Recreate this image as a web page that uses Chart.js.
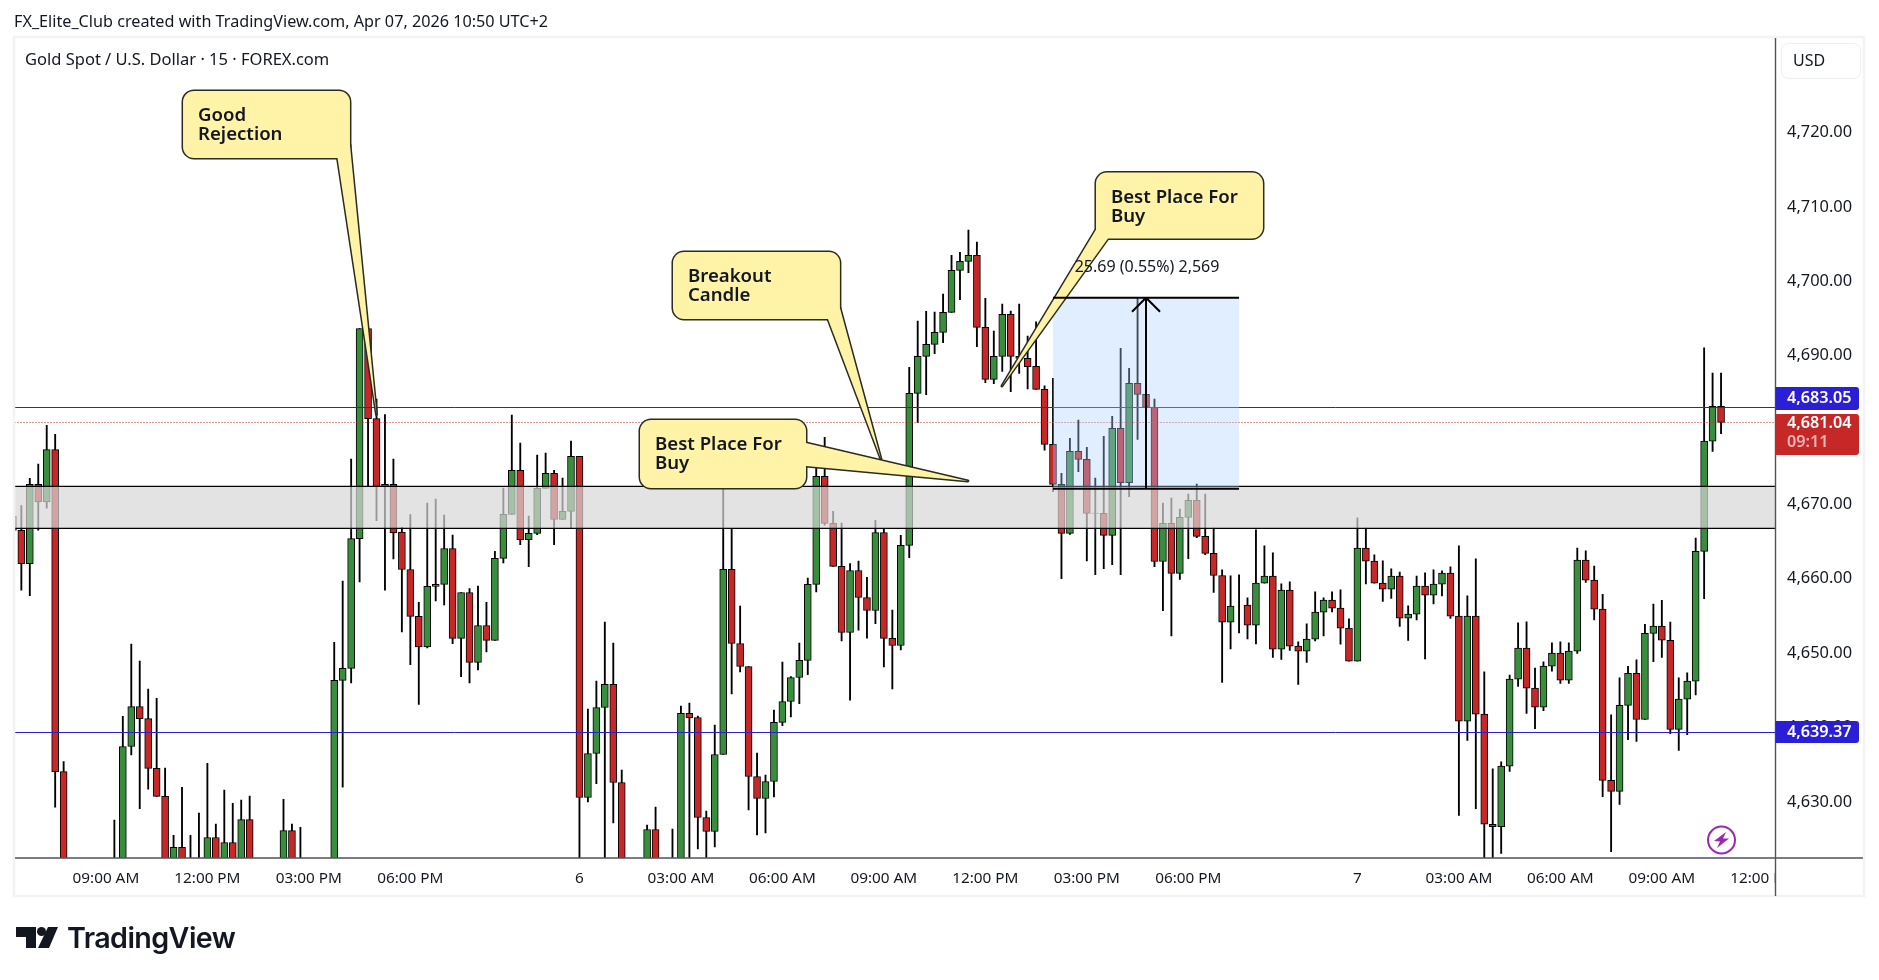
<!DOCTYPE html>
<html>
<head>
<meta charset="utf-8">
<title>XAUUSD 15m</title>
<script src="https://cdn.jsdelivr.net/npm/chart.js@4/dist/chart.umd.min.js"></script>
<style>
  html, body { margin: 0; padding: 0; background: #fff; }
  #wrap { position: relative; width: 1879px; height: 980px; overflow: hidden; font-family: "Noto Sans", sans-serif; color: #131722; }
  canvas { position: absolute; left: 0; top: 0; }
  .txt { position: absolute; white-space: nowrap; line-height: 20px; }
  #created { left: 14px; top: 11px; font-size: 16.2px; }
  #legend { left: 25px; top: 49px; font-size: 16.5px; }
  #brand { left: 67px; top: 919px; font-family: Inter, sans-serif; font-weight: 600; font-size: 28.7px; line-height: 38px; letter-spacing: -0.6px; color: #131722; }
  #logo { position: absolute; left: 16px; top: 926px; }
</style>
</head>
<body>
<div id="wrap">
  <canvas id="chart" width="1879" height="980"></canvas>
  <div class="txt" id="created">FX_Elite_Club created with TradingView.com, Apr 07, 2026 10:50 UTC+2</div>
  <div class="txt" id="legend">Gold Spot / U.S. Dollar · 15 · FOREX.com</div>
  <svg id="logo" width="42" height="23" viewBox="0 0 42 23">
    <path d="M0 1h20v21h-10v-11h-10z" fill="#131722"/>
    <circle cx="25.5" cy="5.5" r="4.5" fill="#131722"/>
    <path d="M32 1h10l-9 21h-11z" fill="#131722"/>
  </svg>
  <div class="txt" id="brand">TradingView</div>
</div>
<script>
// bars are 15 min apart, index 0 is the first full candle, -1 is cut by the left edge
const firstBar = -1;

// null = candle sits completely below the visible pane
const opens = [
  4668.4, 4666.53, 4662.03, 4672.69, 4670.34, 4677.38, 4634.06, null, null, null, null, null,
  4620, 4620, 4637.44, 4642.81, 4641.2, 4634.5, 4630.74, 4621, 4623.89, 4621, 4620, 4620,
  4625.21, 4620, 4624.53, 4620, 4627.61, null, null, null, 4620, 4626.14, 4620, null, null, null,
  4620, 4646.33, 4647.95, 4665.4, 4693.66, 4681.53, 4672.39, 4672.69, 4666.28, 4661.25, 4654.94, 4650.85,
  4658.97, 4659.24, 4664.08, 4651.98, 4658.16, 4648.75, 4653.72, 4651.71, 4662.74, 4668.66, 4674.58, 4665.25,
  4666.1, 4672.15, 4674.17, 4667.98, 4669.06, 4676.46, 4630.59, 4636.51, 4642.69, 4645.79, 4632.6, null, null,
  4620, 4626.28, null, 4620, 4621, 4641.89, 4641.35, 4627.9, 4626.01, 4636.37, 4661.26, 4651.3, 4648.21,
  4633.41, 4630.45, 4632.74, 4640.68, 4643.5, 4646.73, 4649.02, 4659.24, 4673.77, 4667.45, 4661.66, 4652.78,
  4661.12, 4657.49, 4655.74, 4666.23, 4651.98, 4651.03, 4664.49, 4684.93, 4689.91, 4691.52, 4693.14, 4695.83,
  4701.48, 4702.69, 4703.5, 4693.81, 4686.82, 4689.91, 4695.56, 4689.91, 4689.64, 4688.57, 4685.47, 4678.07,
  4672.69, 4666.1, 4677.13, 4676.06, 4668.79, 4668.79, 4665.83, 4680.23, 4672.92, 4686.28, 4684.8, 4683.05,
  4662.33, 4667.45, 4660.72, 4668.25, 4670.54, 4665.7, 4663.41, 4660.44, 4654.17, 4656.45, 4656.45, 4653.76,
  4659.41, 4660.36, 4650.54, 4658.47, 4650.94, 4650.27, 4651.88, 4655.51, 4657.13, 4656.05, 4653.36, 4648.92,
  4664.12, 4662.37, 4659.41, 4658.61, 4660.36, 4654.71, 4655.24, 4659.01, 4657.8, 4659.28, 4660.76, 4654.97,
  4640.85, 4654.97, 4641.79, 4626.99, 4626.68, 4634.8, 4646.5, 4650.67, 4645.29, 4642.73, 4648.25, 4650.0,
  4646.37, 4650.27, 4662.51, 4659.82, 4655.91, 4632.89, 4631.4, 4642.98, 4647.29, 4641.08, 4652.66, 4653.64,
  4651.74, 4639.74, 4643.82, 4646.23, 4663.69, 4678.51, 4683.19
];
const highs = [
  4668.4, 4669.85, 4673.52, 4675.42, 4680.65, 4679.43, 4635.43, null, null, null, null, null,
  4627.56, 4641.49, 4651.22, 4648.92, 4645.16, 4643.94, 4634.55, 4625.51, 4631.96, 4625.51, 4628.49, 4635.19,
  4627.02, 4631.57, 4629.81, 4630.25, 4630.79, null, null, null, 4630.35, 4627.02, 4626.58, null, null, null,
  4651.47, 4659.68, 4676.11, 4693.66, 4693.66, 4684.17, 4682.07, 4676.11, 4666.92, 4668.63, 4656.82, 4670.18,
  4670.72, 4668.57, 4665.88, 4658.16, 4658.7, 4659.02, 4656.82, 4663.68, 4672.2, 4682.02, 4678.25, 4668.43,
  4676.64, 4676.91, 4674.58, 4673.54, 4678.52, 4676.46, 4642.47, 4646.24, 4654.17, 4651.35, 4634.26, null, null,
  4626.87, 4629.29, null, 4626.33, 4642.87, 4643.28, 4641.53, 4628.75, 4640.32, 4672.15, 4666.77, 4656.33, 4648.21,
  4636.55, 4633.59, 4642.34, 4648.79, 4646.86, 4651.35, 4660.09, 4676.64, 4679.01, 4669.06, 4667.49, 4662.06,
  4662.38, 4660.18, 4667.85, 4666.77, 4655.79, 4665.83, 4688.43, 4694.66, 4695.96, 4695.87, 4698.3, 4703.5,
  4703.9, 4706.9, 4705.29, 4697.71, 4693.32, 4696.95, 4696.0, 4696.95, 4692.65, 4694.57, 4685.96, 4686.95,
  4674.17, 4678.88, 4681.35, 4677.67, 4673.54, 4679.15, 4681.84, 4690.99, 4688.3, 4697.71, 4688.43, 4684.17,
  4670.18, 4670.85, 4669.37, 4671.39, 4672.74, 4671.39, 4666.81, 4661.21, 4660.4, 4660.53, 4657.44, 4666.59,
  4664.44, 4663.49, 4659.32, 4659.59, 4651.52, 4653.94, 4658.25, 4657.44, 4658.25, 4658.52, 4654.62, 4668.2,
  4666.81, 4663.22, 4662.42, 4661.34, 4660.89, 4656.36, 4660.36, 4660.8, 4661.21, 4661.07, 4661.61, 4664.44,
  4657.71, 4662.69, 4647.49, 4634.44, 4635.38, 4647.04, 4654.08, 4654.21, 4647.98, 4648.83, 4651.39, 4651.52,
  4651.39, 4664.12, 4663.76, 4661.7, 4657.9, 4641.69, 4646.69, 4648.22, 4649.1, 4653.87, 4656.6, 4657.11,
  4654.19, 4646.69, 4647.34, 4665.49, 4691.06, 4687.68, 4687.68
];
const lows = [
  4666.5, 4658.46, 4657.72, 4666.53, 4669.51, 4629.27, 4617, null, null, null, null, null,
  4617, 4619, 4636.31, 4629.08, 4631.72, 4630.74, 4619, 4619, 4619, 4617, 4617, 4618,
  4619, 4618, 4619, 4618, 4618, null, null, null, 4618, 4618, 4618, null, null, null,
  4618, 4631.96, 4645.99, 4659.58, 4672.39, 4667.8, 4658.46, 4662.66, 4652.84, 4648.44, 4643.1, 4650.72,
  4657.04, 4656.5, 4651.26, 4646.82, 4646.01, 4647.76, 4650.18, 4651.71, 4662.15, 4668.66, 4664.58, 4661.62,
  4665.92, 4672.15, 4664.58, 4667.98, 4666.77, 4618, 4630.0, 4632.43, 4620, 4627.18, 4619, null, null,
  4618, 4618, null, 4618, 4618, 4620, 4623.68, 4621, 4623.95, 4636.37, 4644.53, 4647.49, 4628.93,
  4625.57, 4625.83, 4630.68, 4640.23, 4641.44, 4643.19, 4647.09, 4658.25, 4667.22, 4661.66, 4651.66, 4643.68,
  4653.1, 4652.02, 4653.95, 4648.16, 4645.2, 4650.45, 4662.83, 4680.99, 4684.75, 4690.27, 4691.75, 4695.83,
  4697.53, 4701.17, 4691.21, 4686.37, 4686.23, 4687.89, 4685.16, 4687.62, 4685.52, 4685.47, 4677.31, 4671.71,
  4660.0, 4665.97, 4674.4, 4662.42, 4660.54, 4661.35, 4661.89, 4660.54, 4671.03, 4678.75, 4675.52, 4661.62,
  4655.7, 4652.33, 4659.91, 4662.69, 4665.52, 4663.23, 4658.16, 4646.05, 4650.58, 4652.73, 4651.93, 4651.25,
  4659.41, 4649.41, 4649.15, 4650.36, 4645.78, 4648.74, 4651.66, 4652.33, 4655.56, 4651.21, 4648.92, 4648.92,
  4659.32, 4659.41, 4656.95, 4657.35, 4653.58, 4651.7, 4654.48, 4649.23, 4656.63, 4657.71, 4654.66, 4628.16,
  4638.25, 4629.1, 4620, 4620, 4623.05, 4634.08, 4645.51, 4641.88, 4639.86, 4642.28, 4647.58, 4645.92,
  4645.92, 4649.95, 4659.5, 4654.48, 4630.71, 4623.3, 4629.64, 4638.35, 4638.12, 4641.08, 4648.87, 4649.42,
  4639.18, 4636.92, 4639.05, 4644.37, 4657.34, 4677.12, 4679.53
];
const closes = [
  4666.5, 4662.03, 4672.69, 4670.34, 4677.38, 4634.06, 4618, null, null, null, null, null,
  4621, 4637.44, 4642.81, 4641.2, 4634.5, 4630.74, 4621, 4623.89, 4621, 4620, 4621, 4625.21,
  4620, 4624.53, 4620, 4627.61, 4620, null, null, null, 4626.14, 4620, 4621, null, null, null,
  4646.33, 4647.95, 4665.4, 4693.66, 4681.53, 4672.4, 4672.69, 4666.18, 4661.25, 4654.94, 4650.85, 4658.97,
  4659.24, 4664.08, 4651.98, 4658.16, 4648.75, 4653.72, 4651.71, 4662.74, 4668.66, 4674.58, 4665.25, 4666.1,
  4672.15, 4674.17, 4667.98, 4669.06, 4676.46, 4630.59, 4636.51, 4642.69, 4645.79, 4632.6, 4620, null, null,
  4626.28, 4620, null, 4621, 4641.89, 4641.3, 4627.9, 4626.01, 4636.37, 4661.26, 4651.3, 4648.21, 4633.41,
  4630.45, 4632.74, 4640.68, 4643.5, 4646.73, 4649.02, 4659.24, 4673.77, 4667.45, 4661.66, 4652.78, 4661.12,
  4657.49, 4655.74, 4666.23, 4651.98, 4651.03, 4664.49, 4684.93, 4689.91, 4691.52, 4693.14, 4695.83, 4701.48,
  4702.69, 4703.5, 4693.81, 4686.82, 4689.91, 4695.56, 4689.91, 4689.64, 4688.52, 4685.47, 4678.07, 4672.69,
  4666.1, 4677.13, 4676.06, 4668.79, 4668.85, 4665.83, 4680.23, 4672.92, 4686.28, 4684.8, 4683.05, 4662.33,
  4667.45, 4660.72, 4668.25, 4670.54, 4665.7, 4663.41, 4660.44, 4654.17, 4656.32, 4656.45, 4653.76, 4659.41,
  4660.36, 4650.54, 4658.47, 4650.94, 4650.27, 4651.88, 4655.51, 4657.13, 4656.05, 4653.36, 4648.92, 4664.12,
  4662.37, 4659.41, 4658.61, 4660.36, 4654.71, 4655.24, 4659.01, 4657.8, 4659.28, 4660.76, 4654.97, 4640.85,
  4654.97, 4641.79, 4626.99, 4626.68, 4634.8, 4646.5, 4650.67, 4645.29, 4642.73, 4648.25, 4650.0, 4646.37,
  4650.27, 4662.51, 4659.82, 4655.92, 4632.89, 4631.4, 4642.98, 4647.29, 4641.08, 4652.66, 4653.64, 4651.74,
  4639.74, 4643.82, 4646.23, 4663.69, 4678.51, 4683.19, 4681.04
];

const priceTicks = [4630, 4640, 4650, 4660, 4670, 4680, 4690, 4700, 4710, 4720];
const timeTickBars = [10, 22, 34, 46, 66, 78, 90, 102, 114, 126, 138, 158, 170, 182, 194, 206];
const timeTickLabels = ['09:00 AM', '12:00 PM', '03:00 PM', '06:00 PM', '6', '03:00 AM', '06:00 AM', '09:00 AM',
  '12:00 PM', '03:00 PM', '06:00 PM', '7', '03:00 AM', '06:00 AM', '09:00 AM', '12:00 PM'];

// horizontal levels and zone, in price
const resistanceLine = 4683.05;
const supportLine = 4639.37;
const lastPrice = 4681.04;
const countdown = '09:11';
const zoneTop = 4672.42;
const zoneBottom = 4666.77;

// price range tool, bars / prices
const rangeFromBar = 122;
const rangeToBar = 144;
const rangeArrowBar = 133;
const rangeLow = 4672.11;
const rangeHigh = 4697.8;
const rangeLabel = '25.69 (0.55%) 2,569';

// callouts: box corners and tail points in bar / price
const callouts = [
  { lines: ['Good', 'Rejection'], left: 19.12, right: 38.86, top: 4725.61, bottom: 4716.59,
    a: [37.39, 4716.59], b: [38.86, 4718.34], tip: [42.0, 4682.1] },
  { lines: ['Breakout', 'Candle'], left: 77.06, right: 96.8, top: 4703.95, bottom: 4694.94,
    a: [95.39, 4694.94], b: [96.8, 4696.42], tip: [101.65, 4676.11] },
  { lines: ['Best Place For', 'Buy'], left: 73.16, right: 92.79, top: 4681.36, bottom: 4672.21,
    a: [92.79, 4678.26], b: [92.79, 4675.17], tip: [111.94, 4673.15] },
  { lines: ['Best Place For', 'Buy'], left: 127.08, right: 146.83, top: 4714.64, bottom: 4705.77,
    a: [127.2, 4707.18], b: [128.5, 4705.77], tip: [115.96, 4685.93] }
];

const GREEN = '#388e3c';
const RED = '#c62828';
const FONT = '"Noto Sans", sans-serif';

const bodies = opens.map((o, i) => ({ x: firstBar + i, y: o === null ? null : [o, closes[i]] }));
const wicks = highs.map((h, i) => ({ x: firstBar + i, y: h === null ? null : [lows[i], h] }));
const bodyColors = opens.map((o, i) => (closes[i] >= o ? GREEN : RED));

function callout(ctx, sx, sy, c) {
  const l = sx(c.left), r = sx(c.right), t = sy(c.top), b = sy(c.bottom);
  const box = new Path2D();
  box.roundRect(l, t, r - l, b - t, 11);
  const tail = new Path2D();
  tail.moveTo(sx(c.a[0]), sy(c.a[1]));
  tail.lineTo(sx(c.tip[0]), sy(c.tip[1]));
  tail.lineTo(sx(c.b[0]), sy(c.b[1]));
  tail.closePath();
  ctx.strokeStyle = '#2b2b20';
  ctx.lineWidth = 3;
  ctx.lineJoin = 'round';
  ctx.stroke(box);
  ctx.stroke(tail);
  ctx.fillStyle = '#fff3a8';
  ctx.fill(box);
  ctx.fill(tail);
  ctx.fillStyle = '#131722';
  ctx.font = '600 18.6px ' + FONT;
  ctx.textAlign = 'left';
  ctx.textBaseline = 'middle';
  c.lines.forEach((txt, i) => ctx.fillText(txt, l + 15, t + 25 + i * 19));
}

const overlays = {
  id: 'overlays',
  afterDatasetsDraw(chart) {
    const { ctx, chartArea: area, scales } = chart;
    const sx = v => scales.x.getPixelForValue(v);
    const sy = v => scales.y.getPixelForValue(v);
    ctx.save();
    ctx.beginPath();
    ctx.rect(area.left, area.top, area.right - area.left, area.bottom - area.top);
    ctx.clip();

    // grey zone sits over the candles
    ctx.fillStyle = 'rgba(215,215,215,0.7)';
    ctx.fillRect(area.left, sy(zoneTop), area.right - area.left, sy(zoneBottom) - sy(zoneTop));
    ctx.strokeStyle = '#000';
    ctx.lineWidth = 1.2;
    [zoneTop, zoneBottom].forEach(p => {
      ctx.beginPath();
      ctx.moveTo(area.left, sy(p));
      ctx.lineTo(area.right, sy(p));
      ctx.stroke();
    });

    ctx.strokeStyle = '#2a1fd6';
    ctx.lineWidth = 1;
    [resistanceLine, supportLine].forEach(p => {
      ctx.beginPath();
      ctx.moveTo(area.left, Math.round(sy(p)) + 0.5);
      ctx.lineTo(area.right, Math.round(sy(p)) + 0.5);
      ctx.stroke();
    });
    ctx.strokeStyle = RED;
    ctx.setLineDash([1, 2]);
    ctx.beginPath();
    ctx.moveTo(area.left, Math.round(sy(lastPrice)) + 0.5);
    ctx.lineTo(area.right, Math.round(sy(lastPrice)) + 0.5);
    ctx.stroke();
    ctx.setLineDash([]);

    // price range tool
    const rl = sx(rangeFromBar), rr = sx(rangeToBar), rt = sy(rangeHigh), rb = sy(rangeLow), ax = sx(rangeArrowBar);
    ctx.fillStyle = 'rgba(169,208,255,0.36)';
    ctx.fillRect(rl, rt, rr - rl, rb - rt);

    callouts.forEach(c => callout(ctx, sx, sy, c));

    ctx.strokeStyle = '#000';
    ctx.lineWidth = 2;
    ctx.beginPath();
    ctx.moveTo(rl, rt); ctx.lineTo(rr, rt);
    ctx.moveTo(rl, rb); ctx.lineTo(rr, rb);
    ctx.moveTo(ax, rb); ctx.lineTo(ax, rt);
    ctx.moveTo(ax - 14, rt + 14); ctx.lineTo(ax, rt); ctx.lineTo(ax + 14, rt + 14);
    ctx.stroke();

    ctx.fillStyle = '#131722';
    ctx.font = '16px ' + FONT;
    ctx.textAlign = 'center';
    ctx.textBaseline = 'middle';
    ctx.fillText(rangeLabel, ax + 1, rt - 30);

    // lightning badge
    ctx.strokeStyle = '#9c27b0';
    ctx.lineWidth = 2;
    ctx.beginPath();
    ctx.arc(1721.5, 840, 13.5, 0, Math.PI * 2);
    ctx.stroke();
    ctx.fillStyle = '#9c27b0';
    ctx.beginPath();
    ctx.moveTo(1726, 832); ctx.lineTo(1714, 841); ctx.lineTo(1720, 841.5);
    ctx.lineTo(1717, 848); ctx.lineTo(1729, 838.5); ctx.lineTo(1723, 838.5);
    ctx.closePath();
    ctx.fill();
    ctx.restore();
  },
  afterDraw(chart) {
    const { ctx, chartArea: area, scales } = chart;
    const sy = v => Math.round(scales.y.getPixelForValue(v));
    ctx.save();

    // last time label runs under the price scale
    ctx.fillStyle = '#fff';
    ctx.fillRect(area.right, area.bottom + 1, 86, 36);

    // outer frame and pane separators
    ctx.strokeStyle = '#f2f3f5';
    ctx.lineWidth = 2.5;
    ctx.strokeRect(14, 37, 1850, 859);
    ctx.strokeStyle = '#50535e';
    ctx.lineWidth = 1.4;
    ctx.beginPath();
    ctx.moveTo(15, area.bottom); ctx.lineTo(1863, area.bottom);
    ctx.moveTo(area.right, 38); ctx.lineTo(area.right, 896);
    ctx.stroke();

    // USD box
    ctx.strokeStyle = '#eceef2';
    ctx.lineWidth = 1;
    ctx.beginPath();
    ctx.roundRect(1781.5, 43.5, 79, 35, 7);
    ctx.stroke();
    ctx.fillStyle = '#131722';
    ctx.font = '16px ' + FONT;
    ctx.textAlign = 'left';
    ctx.textBaseline = 'middle';
    ctx.fillText('USD', 1793, 61);

    const tag = (top, h, color) => {
      ctx.fillStyle = color;
      ctx.beginPath();
      ctx.roundRect(area.right, top, 83.5, h, [0, 3, 3, 0]);
      ctx.fill();
    };
    const fmt = v => v.toLocaleString('en-US', { minimumFractionDigits: 2, maximumFractionDigits: 2 });
    const resY = sy(resistanceLine), supY = sy(supportLine), lastY = sy(lastPrice);
    tag(resY - 20, 23, '#2a1fd6');
    tag(lastY - 8, 41, RED);
    tag(supY - 11, 22, '#2a1fd6');
    ctx.font = '600 16.2px ' + FONT;
    ctx.fillStyle = '#fff';
    ctx.textAlign = 'left';
    ctx.fillText(fmt(resistanceLine), 1787, resY - 9);
    ctx.fillText(fmt(lastPrice), 1787, lastY + 1);
    ctx.fillText(fmt(supportLine), 1787, supY);
    ctx.fillStyle = 'rgba(255,255,255,0.65)';
    ctx.fillText(countdown, 1787, lastY + 20);
    ctx.restore();
  }
};

new Chart(document.getElementById('chart'), {
  type: 'bar',
  data: {
    datasets: [
      { label: 'wick', data: wicks, backgroundColor: '#000', borderWidth: 0, barThickness: 1.2, grouped: false, order: 2 },
      { label: 'body', data: bodies, backgroundColor: bodyColors, borderColor: '#000', borderWidth: 1,
        borderSkipped: false, barThickness: 7, grouped: false, order: 1 }
    ]
  },
  plugins: [overlays],
  options: {
    responsive: false,
    animation: false,
    events: [],
    layout: { padding: { left: 14.5, top: 38, right: 0, bottom: 0 } },
    plugins: { legend: { display: false }, tooltip: { enabled: false } },
    scales: {
      x: {
        type: 'linear',
        offset: false,
        min: -0.81,
        max: 207.44,
        grid: { display: false, drawTicks: false, offset: false },
        border: { display: false },
        afterFit(scale) { scale.height = 122; },
        afterBuildTicks(scale) { scale.ticks = timeTickBars.map(v => ({ value: v })); },
        ticks: {
          autoSkip: false,
          maxRotation: 0,
          padding: 11,
          color: '#131722',
          font: { family: FONT, size: 15.3 },
          callback: v => timeTickLabels[timeTickBars.indexOf(v)]
        }
      },
      y: {
        position: 'right',
        min: 4622.45,
        max: 4732.73,
        grid: { display: false, drawTicks: false },
        border: { display: false },
        afterFit(scale) { scale.width = 103.5; },
        afterBuildTicks(scale) { scale.ticks = priceTicks.map(v => ({ value: v })); },
        ticks: {
          autoSkip: false,
          padding: 11.5,
          color: '#131722',
          font: { family: FONT, size: 16.4 },
          callback: v => v.toLocaleString('en-US', { minimumFractionDigits: 2, maximumFractionDigits: 2 })
        }
      }
    }
  }
});
</script>
</body>
</html>
